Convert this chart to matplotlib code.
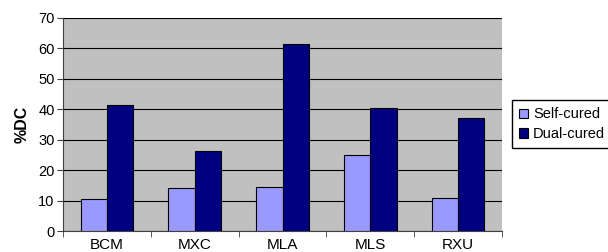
import numpy as np
import matplotlib
matplotlib.use('Agg')
import matplotlib.pyplot as plt

plt.rcParams['font.family'] = ['Liberation Sans', 'DejaVu Sans']

categories = ['BCM', 'MXC', 'MLA', 'MLS', 'RXU']
self_cured = [10.5, 14.1, 14.5, 25.0, 10.9]
dual_cured = [41.4, 26.3, 61.5, 40.4, 37.2]

fig = plt.figure(figsize=(6.08, 2.52), dpi=100)
ax = fig.add_axes([0.1036, 0.0833, 0.7221, 0.8453])
ax.set_facecolor('#C0C0C0')

x = np.arange(len(categories))
w = 0.3
ax.bar(x - w/2, self_cured, w, color='#9999FF', edgecolor='black', linewidth=0.8,
       label='Self-cured', zorder=3)
ax.bar(x + w/2, dual_cured, w, color='#000080', edgecolor='black', linewidth=0.8,
       label='Dual-cured', zorder=3)

ax.set_xlim(-0.5, len(categories) - 0.5)
ax.set_ylim(0, 70)
ax.set_yticks(np.arange(0, 71, 10))
ax.yaxis.grid(True, color='black', linewidth=0.8, zorder=1)
ax.set_axisbelow(True)

ax.set_xticks(x)
ax.set_xticklabels(categories, fontsize=11)
ax.set_xticks(np.arange(-0.5, len(categories)), minor=True)
ax.tick_params(axis='x', which='major', length=0, pad=5)
ax.tick_params(axis='x', which='minor', length=4, color='#404040')
ax.tick_params(axis='y', length=4, labelsize=10.5, pad=2, color='#404040')

for side in ['top', 'right']:
    ax.spines[side].set_visible(False)
ax.spines['left'].set_color('#404040')
ax.spines['bottom'].set_color('#404040')

ax.set_ylabel('%DC', fontsize=11.5, fontweight='bold', labelpad=6)

fig.legend(loc='upper left', bbox_to_anchor=(512/608, 1 - 100/252), fontsize=10.5,
           frameon=True, fancybox=False, edgecolor='black', framealpha=1,
           handlelength=0.6, handleheight=0.6, handletextpad=0.35,
           borderpad=0.5, labelspacing=0.4, borderaxespad=0)

fig.savefig('out.png', dpi=100)
